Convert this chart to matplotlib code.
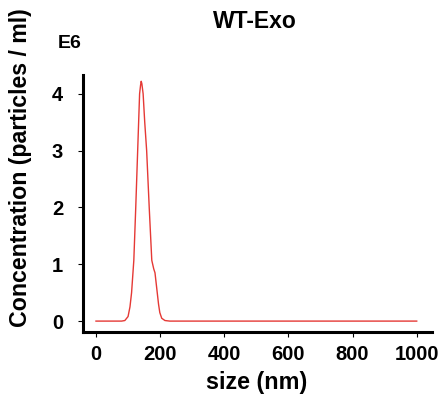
import numpy as np
import matplotlib.pyplot as plt

plt.rcParams['font.family'] = ['Liberation Sans', 'DejaVu Sans']
plt.rcParams['font.weight'] = 'bold'

# size distribution (nm, particles/ml in E6)
size_nm = [0, 40, 80, 90, 100, 106, 111, 118, 124, 130, 136, 139, 141, 143,
           147, 152, 158, 166, 174, 180, 184, 188, 191, 195, 199, 205, 215,
           230, 300, 500, 700, 900, 1000]
conc = [0, 0, 0, 0.01, 0.08, 0.25, 0.5, 1.07, 2.0, 3.0, 4.0, 4.15, 4.22, 4.18,
        4.0, 3.5, 3.0, 2.0, 1.07, 0.92, 0.85, 0.65, 0.5, 0.3, 0.15, 0.05,
        0.01, 0, 0, 0, 0, 0, 0]

xticks = [0, 200, 400, 600, 800, 1000]
yticks = [0, 1, 2, 3, 4]

fig = plt.figure(figsize=(4.47, 3.97), dpi=100)
ax = fig.add_axes([0.186, 0.164, 0.78, 0.647])

ax.plot(size_nm, conc, color='#e53935', lw=1.0)

ax.set_xlim(-40, 1047)
ax.set_ylim(-0.19, 4.33)
ax.set_xticks(xticks)
ax.set_yticks(yticks)
ax.tick_params(labelsize=14.5, width=0.8, length=3.5, direction='out')
ax.tick_params(axis='y', pad=11)
ax.tick_params(axis='x', pad=6)
for s in ['top', 'right']:
    ax.spines[s].set_visible(False)
for s in ['left', 'bottom']:
    ax.spines[s].set_linewidth(2.2)

ax.set_xlabel('size (nm)', fontsize=16.8, fontweight='bold')
ax.xaxis.set_label_coords(0.574, 1 - 382 / 397, transform=fig.transFigure)
ax.xaxis.label.set_va('center')
ax.set_ylabel('Concentration (particles / ml)', fontsize=16.7,
              fontweight='bold')
ax.yaxis.set_label_coords(0.045, 1 - 168 / 397, transform=fig.transFigure)
ax.yaxis.label.set_va('center')
fig.text(0.57, 1 - 22 / 397, 'WT-Exo', fontsize=16.5, fontweight='bold',
         ha='center', va='center')
fig.text(0.156, 1 - 43 / 397, 'E6', fontsize=14, fontweight='bold',
         ha='center', va='center')

fig.savefig('out.png', dpi=100)
